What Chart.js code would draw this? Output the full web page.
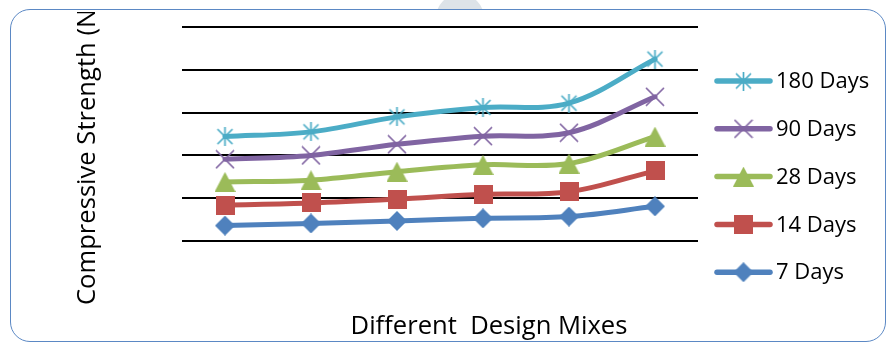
<!DOCTYPE html>
<html>
<head>
<meta charset="utf-8">
<script src="https://cdn.jsdelivr.net/npm/chart.js@4.4.1/dist/chart.umd.min.js"></script>
<style>
  html, body { margin: 0; padding: 0; background: #fff; }
  #wrap { position: relative; width: 888px; height: 343px; overflow: hidden; }
  #chart { position: absolute; left: 0; top: 0; }
  #frame { position: absolute; left: 10px; top: 9px; width: 876px; height: 333px; box-sizing: border-box;
           border: 1.5px solid #5b88c4; border-radius: 20px; pointer-events: none; }
  #markClip { position: absolute; left: 430px; top: 0; width: 60px; height: 10px; overflow: hidden; }
  #mark { position: absolute; left: 6px; top: -6px; width: 48px; height: 48px; border-radius: 50%; background: #dde3e8; }
</style>
</head>
<body>
<div id="wrap">
  <div id="markClip"><div id="mark"></div></div>
  <canvas id="chart" width="888" height="343"></canvas>
  <div id="frame"></div>
</div>
<script>
// Datos (resistencia a compresión por mezcla)
const mixes = ['Mix 1', 'Mix 2', 'Mix 3', 'Mix 4', 'Mix 5', 'Mix 6'];
const days7 = [3.6, 4.1, 4.7, 5.3, 5.7, 8.1];
const days14 = [8.4, 8.9, 9.8, 10.9, 11.5, 16.4];
const days28 = [13.8, 14.2, 16.2, 17.8, 18.1, 24.4];
const days90 = [19.1, 20.0, 22.6, 24.5, 25.3, 33.7];
const days180 = [24.4, 25.5, 29.0, 31.2, 32.2, 42.5];
const seriesNames = ['7 Days', '14 Days', '28 Days', '90 Days', '180 Days'];
const yTicks = [0, 10, 20, 30, 40, 50];
const yTitle = 'Compressive Strength (N/mm²)';
const xTitle = 'Different  Design Mixes';

const colors = ['#4f81bd', '#c0504d', '#9bbb59', '#8064a2', '#4bacc6'];

// Marcadores estilo Excel dibujados en pequeños canvas
const makeMarker = (w, h, draw) => {
    const c = document.createElement('canvas');
    c.width = w; c.height = h;
    const g = c.getContext('2d');
    draw(g);
    return c;
};

const diamond = makeMarker(20, 20, g => {
    g.fillStyle = colors[0];
    g.beginPath(); g.moveTo(10, 0); g.lineTo(20, 10); g.lineTo(10, 20); g.lineTo(0, 10); g.closePath(); g.fill();
});
const square = makeMarker(19, 19, g => {
    g.fillStyle = colors[1];
    g.fillRect(0, 0, 19, 19);
});
const triangle = makeMarker(21, 20, g => {
    g.fillStyle = colors[2];
    g.beginPath(); g.moveTo(10.5, 0); g.lineTo(21, 20); g.lineTo(0, 20); g.closePath(); g.fill();
});
const cross = makeMarker(20, 20, g => {
    g.strokeStyle = colors[3]; g.lineWidth = 1.7;
    g.beginPath(); g.moveTo(1, 1); g.lineTo(19, 19); g.moveTo(19, 1); g.lineTo(1, 19); g.stroke();
});
const star = makeMarker(19, 19, g => {
    g.strokeStyle = colors[4]; g.lineWidth = 1.7;
    g.beginPath();
    g.moveTo(2, 2); g.lineTo(17, 17); g.moveTo(17, 2); g.lineTo(2, 17);
    g.moveTo(9.5, 0); g.lineTo(9.5, 19);
    g.stroke();
});
const markers = [diamond, square, triangle, cross, star];
const values = [days7, days14, days28, days90, days180];

const datasets = seriesNames.map((name, i) => ({
    label: name,
    data: values[i],
    borderColor: colors[i],
    backgroundColor: colors[i],
    borderWidth: 5,
    tension: 0.35,
    pointStyle: markers[i],
    pointRadius: 10,
    borderCapStyle: 'round',
    borderJoinStyle: 'round'
}));

// Títulos y leyenda dibujados a mano (leyenda con línea + marcador)
const decorations = {
    id: 'decorations',
    afterDraw(chart) {
        const ctx = chart.ctx;
        ctx.save();
        ctx.fillStyle = '#000';
        ctx.font = '25.6px "Open Sans"';

        // Título del eje Y, recortado por el marco
        ctx.save();
        ctx.beginPath();
        ctx.rect(0, 12, chart.width, chart.height);
        ctx.clip();
        ctx.translate(95, 305);
        ctx.rotate(-Math.PI / 2);
        ctx.textAlign = 'left';
        ctx.textBaseline = 'alphabetic';
        ctx.fillText(yTitle, 0, 0);
        ctx.restore();

        // Título del eje X
        ctx.textAlign = 'center';
        ctx.textBaseline = 'alphabetic';
        ctx.fillText(xTitle, 489, 334);

        // Leyenda
        ctx.font = '22px "Open Sans"';
        ctx.textAlign = 'left';
        ctx.textBaseline = 'middle';
        const order = [4, 3, 2, 1, 0];
        order.forEach((idx, row) => {
            const y = 81 + row * 47.8;
            ctx.strokeStyle = colors[idx];
            ctx.lineWidth = 5.5;
            ctx.lineCap = 'round';
            ctx.beginPath();
            ctx.moveTo(717, y);
            ctx.lineTo(770, y);
            ctx.stroke();
            const m = markers[idx];
            ctx.drawImage(m, 743.5 - m.width / 2, y - m.height / 2);
            ctx.fillStyle = '#000';
            ctx.fillText(seriesNames[idx], 776, y + 1);
        });
        ctx.restore();
    }
};

new Chart(document.getElementById('chart'), {
    type: 'line',
    data: { labels: mixes, datasets: datasets },
    options: {
        responsive: false,
        animation: false,
        layout: { padding: { left: 182, right: 190, top: 27, bottom: 102 } },
        plugins: { legend: { display: false }, tooltip: { enabled: false } },
        scales: {
            x: {
                display: false,
                offset: true
            },
            y: {
                min: yTicks[0],
                max: yTicks[yTicks.length - 1],
                afterBuildTicks: axis => { axis.ticks = yTicks.map(v => ({ value: v })); },
                ticks: { display: false },
                grid: { color: '#000', lineWidth: 2, drawTicks: false },
                border: { display: false }
            }
        }
    },
    plugins: [decorations]
});
</script>
</body>
</html>
